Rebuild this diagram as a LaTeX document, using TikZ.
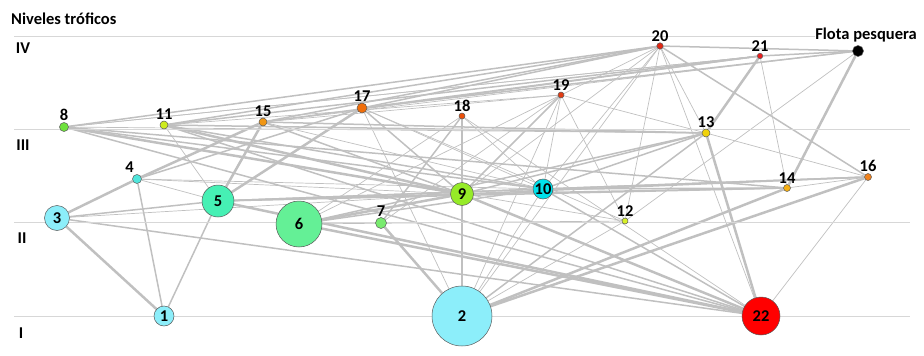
\documentclass[tikz,border=0pt]{standalone}
\usepackage{fontspec}
\setmainfont{Carlito}
\definecolor{ec}{RGB}{192,192,192}
\definecolor{lv}{RGB}{215,215,215}
\definecolor{cA}{RGB}{140,238,250}
\definecolor{cB}{RGB}{80,230,220}
\definecolor{cC}{RGB}{70,240,180}
\definecolor{cD}{RGB}{100,240,150}
\definecolor{cE}{RGB}{120,235,110}
\definecolor{cF}{RGB}{110,225,60}
\definecolor{cG}{RGB}{150,235,40}
\definecolor{cH}{RGB}{0,225,235}
\definecolor{cI}{RGB}{205,235,30}
\definecolor{cJ}{RGB}{215,240,40}
\definecolor{cK}{RGB}{240,210,10}
\definecolor{cL}{RGB}{245,175,20}
\definecolor{cM}{RGB}{240,150,20}
\definecolor{cN}{RGB}{240,130,30}
\definecolor{cO}{RGB}{240,110,10}
\definecolor{cP}{RGB}{235,80,10}
\definecolor{cQ}{RGB}{225,60,20}
\definecolor{cR}{RGB}{225,40,20}
\definecolor{cS}{RGB}{235,30,30}
\definecolor{cT}{RGB}{255,0,0}
\pgfdeclarelayer{bg}
\pgfsetlayers{bg,main}
\begin{document}
\begin{tikzpicture}[x=1pt,y=-1pt,
  nd/.style={circle,draw=black!65,line width=0.5pt,inner sep=0pt,font=\bfseries\fontsize{16.5}{16.5}\selectfont},
  lab/.style={font=\bfseries\fontsize{16.5}{16.5}\selectfont,inner sep=1pt},
  lvtxt/.style={font=\bfseries\fontsize{16.5}{16.5}\selectfont,inner sep=0pt},
  e1/.style={draw=ec,line width=0.7pt},
  e2/.style={draw=ec,line width=1.5pt},
  e3/.style={draw=ec,line width=2.5pt},
  every label/.style={lab}]
\useasboundingbox (0,0) rectangle (924,356);
% level lines
\foreach \yy in {36,129,222,316} \draw[lv,line width=0.8pt] (14,\yy) -- (910,\yy);
\node[lvtxt,anchor=west] (title) at (11,19) {Niveles tróficos};
\node[lvtxt] (lIV) at (23,48) {IV};
\node[lvtxt] (lIII) at (23,145) {III};
\node[lvtxt] (lII) at (22,238) {II};
\node[lvtxt] (lI) at (21,333) {I};
% nodes
\node[nd,fill=cA,minimum size=20pt] (n1) at (164,316) {1};
\node[nd,fill=cA,minimum size=60pt] (n2) at (462,316) {2};
\node[nd,fill=cA,minimum size=25pt] (n3) at (57,218) {3};
\node[nd,fill=cB,minimum size=9pt,label={[label distance=1pt]110:4}] (n4) at (137,179) {};
\node[nd,fill=cC,minimum size=32pt] (n5) at (218,201) {5};
\node[nd,fill=cD,minimum size=46pt] (n6) at (299,224) {6};
\node[nd,fill=cE,minimum size=11pt,label={above:7}] (n7) at (381,223) {};
\node[nd,fill=cF,minimum size=9pt,label={above:8}] (n8) at (64,127) {};
\node[nd,fill=cG,minimum size=23pt] (n9) at (462,194) {9};
\node[nd,fill=cH,minimum size=20pt] (n10) at (543,189) {10};
\node[nd,fill=cI,minimum size=8pt,label={above:11}] (n11) at (164,125) {};
\node[nd,fill=cJ,minimum size=6pt,label={above:12}] (n12) at (625,221) {};
\node[nd,fill=cK,minimum size=8pt,label={above:13}] (n13) at (706,133) {};
\node[nd,fill=cL,minimum size=7pt,label={above:14}] (n14) at (787,188) {};
\node[nd,fill=cM,minimum size=8pt,label={above:15}] (n15) at (263,122) {};
\node[nd,fill=cN,minimum size=7pt,label={above:16}] (n16) at (868,177) {};
\node[nd,fill=cO,minimum size=10pt,label={above:17}] (n17) at (362,108) {};
\node[nd,fill=cP,minimum size=6pt,label={above:18}] (n18) at (462,116) {};
\node[nd,fill=cQ,minimum size=6pt,label={above:19}] (n19) at (561,95) {};
\node[nd,fill=cR,minimum size=6.5pt,label={above:20}] (n20) at (660,46) {};
\node[nd,fill=cS,minimum size=5.5pt,label={above:21}] (n21) at (760,56) {};
\node[nd,fill=cT,minimum size=38pt] (n22) at (761,316) {22};
\node[nd,fill=black,minimum size=11pt] (nF) at (858,51) {};
\node[lab,fill=white,inner sep=0.5pt] (tF) at (866,35) {Flota pesquera};
% edges
\begin{pgfonlayer}{bg}
\foreach \a/\b in {3/1,3/4,6/22,5/22,7/2,13/22,21/13,F/14,2/16,2/14,8/9,11/9,15/5,17/5,4/15,6/9,9/22}
  \draw[e3] (n\a) -- (n\b);
\foreach \a/\b in {4/1,5/1,3/5,3/22,2/9,18/9,18/7,19/9,20/16,20/8,20/11,20/15,20/17,21/11,21/15,21/17,F/20,F/21,F/17,13/9,13/10,13/6,8/10,8/22,11/10,11/22,15/9,15/13,4/17,10/22,5/9,5/10,6/10,16/10,16/9,14/9,14/10,2/13,8/14,5/14,11/13,17/9,5/16}
  \draw[e2] (n\a) -- (n\b);
\foreach \a/\b in {11/5,17/2,18/22,18/10,19/10,19/13,19/12,20/12,20/22,20/13,20/9,20/10,21/14,16/22,16/13,F/12,12/2,19/2,18/2,19/7,8/13,8/21,11/19,4/10,4/9,4/5,19/6,12/6,10/2,F/15,20/19,21/8,17/10,15/10,19/15,18/6,3/9,12/8,17/12,20/2,14/16}
  \draw[e1] (n\a) -- (n\b);
\end{pgfonlayer}
\end{tikzpicture}
\end{document}
